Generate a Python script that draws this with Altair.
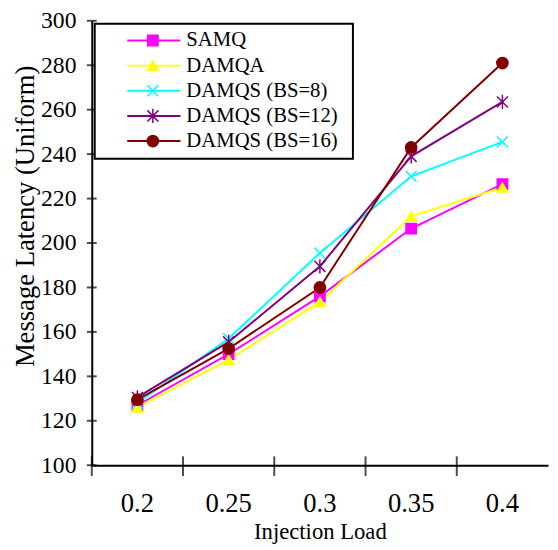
import altair as alt
import pandas as pd

loads = ["0.2", "0.25", "0.3", "0.35", "0.4"]
series = ["SAMQ", "DAMQA", "DAMQS (BS=8)", "DAMQS (BS=12)", "DAMQS (BS=16)"]
samq = [127, 150, 176, 206.5, 226.5]
damqa = [126, 147.5, 173.5, 212, 225]
damqs8 = [128, 157, 195.5, 230, 245.5]
damqs12 = [130.5, 155.5, 189.5, 239, 263.5]
damqs16 = [129.5, 152.5, 180, 243, 281]
y_ticks = [100, 120, 140, 160, 180, 200, 220, 240, 260, 280, 300]

colors = ["#FF00FF", "#FFFF00", "#00FFFF", "#800080", "#800000"]
shapes = ["square", "triangle-up", "M-1,-1L1,1M1,-1L-1,1",
          "M-1,-1L1,1M1,-1L-1,1M0,-1.3L0,1.3", "circle"]
sizes = [110, 130, 120, 140, 120]

rows = []
for name, vals in zip(series, [samq, damqa, damqs8, damqs12, damqs16]):
    for l, v in zip(loads, vals):
        rows.append({"series": name, "load": l, "latency": v})
df = pd.DataFrame(rows)

FONT = "Liberation Serif, Times New Roman, serif"
W, H = 463, 451

xscale = alt.Scale(type="band", domain=loads, paddingInner=0, paddingOuter=0)
yscale = alt.Scale(domain=[100, 300], nice=False, zero=False)
cscale = alt.Scale(domain=series, range=colors)

x_axis = alt.Axis(title="Injection Load", labelAngle=0, ticks=False, tickSize=0,
                  labelFont=FONT, labelFontSize=27, labelColor="black",
                  labelBaseline="alphabetic", labelPadding=47,
                  titleFont=FONT, titleFontSize=23, titleFontWeight="normal",
                  titleColor="black", titleBaseline="alphabetic", titleY=74,
                  domainColor="black", domainWidth=2, grid=False)
y_axis = alt.Axis(title="Message Latency (Uniform)", values=y_ticks, ticks=False, tickSize=0,
                  labelFont=FONT, labelFontSize=24, labelColor="black", labelPadding=16,
                  titleFont=FONT, titleFontSize=27, titleFontWeight="normal",
                  titleColor="black", titleAngle=270, titleBaseline="alphabetic",
                  titleX=-59, titleY=198, titleAlign="center",
                  domainColor="black", domainWidth=2, grid=False)

x_enc = alt.X("load:O", scale=xscale, sort=loads, axis=x_axis)
y_enc = alt.Y("latency:Q", scale=yscale, axis=y_axis)

base = alt.Chart(df)
lines = base.mark_line(strokeWidth=2).encode(
    x=x_enc, y=y_enc,
    color=alt.Color("series:N", scale=cscale, legend=None),
    detail="series:N",
)
points = base.mark_point(filled=True, opacity=1, strokeWidth=1.5).encode(
    x=x_enc, y=y_enc,
    color=alt.Color("series:N", scale=cscale, legend=None),
    stroke=alt.Stroke("series:N", scale=cscale, legend=None),
    shape=alt.Shape("series:N", scale=alt.Scale(domain=series, range=shapes), legend=None),
    size=alt.Size("series:N", scale=alt.Scale(domain=series, range=sizes), legend=None),
)

ytick_df = pd.DataFrame({"latency": y_ticks})
yticks = alt.Chart(ytick_df).mark_tick(color="black", thickness=2, size=10, orient="horizontal").encode(
    y=y_enc,
    x=alt.value(0),
)
xtick_df = pd.DataFrame({"load": loads})
xticks = alt.Chart(xtick_df).mark_tick(color="black", thickness=2, size=20, orient="vertical").encode(
    x=alt.X("load:O", scale=xscale, sort=loads, bandPosition=0, axis=x_axis),
    y=alt.value(H + 1),
)

main = alt.layer(lines, points, yticks, xticks)

leg_df = pd.DataFrame({"series": series})
ly = alt.Y("series:N", sort=series, scale=alt.Scale(type="point", domain=series, range=[20, 122], padding=0), axis=None)
leg_box = alt.Chart(leg_df).mark_rect(fill="white", stroke="black", strokeWidth=2).encode(
    x=alt.value(3), x2=alt.value(265), y=alt.value(3), y2=alt.value(140)
).transform_filter(alt.datum.series == series[0])
leg_rule = alt.Chart(leg_df).mark_rule(strokeWidth=2).encode(
    x=alt.value(36), x2=alt.value(90), y=ly,
    color=alt.Color("series:N", scale=cscale, legend=None),
)
leg_pts = alt.Chart(leg_df).mark_point(filled=True, opacity=1, strokeWidth=1.5).encode(
    x=alt.value(62), y=ly,
    color=alt.Color("series:N", scale=cscale, legend=None),
    stroke=alt.Stroke("series:N", scale=cscale, legend=None),
    shape=alt.Shape("series:N", scale=alt.Scale(domain=series, range=shapes), legend=None),
    size=alt.Size("series:N", scale=alt.Scale(domain=series, range=sizes), legend=None),
)
leg_txt = alt.Chart(leg_df).mark_text(align="left", baseline="middle", font=FONT, fontSize=21, color="black").encode(
    x=alt.value(96), y=ly, text="series:N",
)
legend = alt.layer(leg_box, leg_rule, leg_pts, leg_txt)

chart = alt.layer(main, legend).resolve_scale(y="independent").properties(
    width=W, height=H,
    autosize=alt.AutoSizeParams(type="none"),
    padding={"left": 85, "top": 9, "right": 2, "bottom": 80},
    background="white",
).configure_view(stroke=None)

chart.save("out.html", embed_options={"renderer": "svg", "actions": False})
